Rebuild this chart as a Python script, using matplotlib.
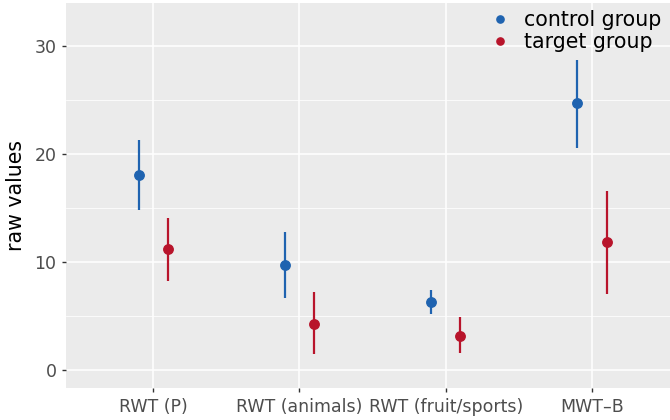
import matplotlib
matplotlib.use("Agg")
import matplotlib.pyplot as plt
import numpy as np

# data
tests = ["RWT (P)", "RWT (animals)", "RWT (fruit/sports)", "MWT\u2013B"]
control_mean = [18.1, 9.7, 6.3, 24.7]
control_low = [14.8, 6.7, 5.2, 20.6]
control_high = [21.3, 12.8, 7.4, 28.7]
target_mean = [11.2, 4.3, 3.2, 11.9]
target_low = [8.3, 1.5, 1.6, 7.1]
target_high = [14.1, 7.2, 4.9, 16.6]

BLUE = "#1f63b0"
RED = "#b8142b"
dodge = 0.1

fig = plt.figure(figsize=(6.7, 4.2), dpi=100)
ax = fig.add_axes([65.5 / 670, 32 / 420, 604 / 670, 385 / 420])
ax.set_facecolor("#ebebeb")
for s in ax.spines.values():
    s.set_visible(False)

x = np.arange(1, len(tests) + 1)


def draw(xs, mean, low, high, color, label):
    mean = np.array(mean)
    ax.vlines(xs, low, high, color=color, lw=1.6, zorder=3)
    ax.plot(xs, mean, "o", color=color, ms=6.8, zorder=4, ls="none")
    # separate handle so the legend dot is a bit smaller
    ax.plot([], [], "o", color=color, ms=5.2, ls="none", label=label)


draw(x - dodge, control_mean, control_low, control_high, BLUE, "control group")
draw(x + dodge, target_mean, target_low, target_high, RED, "target group")

ax.set_xlim(0.4, 4.53)
ax.set_ylim(-1.65, 34.0)
ax.set_xticks(x)
ax.set_xticklabels(tests)
ax.set_yticks([0, 10, 20, 30])
ax.set_yticks([5, 15, 25], minor=True)
ax.grid(True, which="major", color="white", lw=1.1, zorder=0)
ax.grid(True, which="minor", axis="y", color="white", lw=0.55, zorder=0)
ax.set_axisbelow(True)
ax.tick_params(axis="both", which="major", colors="#333333", labelcolor="#4d4d4d",
               labelsize=12.5, length=3, width=1)
ax.tick_params(axis="x", pad=4)
ax.tick_params(axis="y", which="minor", length=0)
ax.set_ylabel("raw values", fontsize=14.8, color="black", labelpad=6)

leg = ax.legend(loc="upper right", frameon=False, fontsize=14.8,
                handletextpad=0.55, borderaxespad=0.0, labelspacing=0.1,
                bbox_to_anchor=(1.0, 1.003), handlelength=1.2)

fig.savefig("out.png", dpi=100)
